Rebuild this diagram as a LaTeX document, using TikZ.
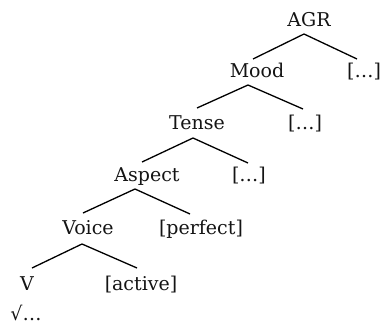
\documentclass[tikz,border=0pt]{standalone}
\usepackage{fontspec}
\setmainfont{DejaVu Serif}
\begin{document}
\begin{tikzpicture}[x=1pt,y=-1pt,
  lab/.style={anchor=base, inner sep=0pt, font=\fontsize{19}{22}\selectfont, text=black!92},
  branch/.style={line width=1.3pt, black}]
\useasboundingbox (0,0) rectangle (383,324);
% labels
\node[lab] (agr)    at (309,26)  {AGR};
\node[lab] (mood)   at (257,77)  {Mood};
\node[lab] (r1)     at (364,77)  {[…]};
\node[lab] (tense)  at (197,129) {Tense};
\node[lab] (r2)     at (305,129) {[…]};
\node[lab] (aspect) at (147,181) {Aspect};
\node[lab] (r3)     at (249,181) {[…]};
\node[lab] (voice)  at (88,234)  {Voice};
\node[lab] (perf)   at (201,234) {[perfect]};
\node[lab] (v)      at (27,290)  {V};
\node[lab] (act)    at (141,290) {[active]};
\node[lab] (root)   at (26,320)  {√…};
% branch points
\coordinate (agrA)  at (304,34);
\coordinate (agrL)  at (253,59);
\coordinate (agrR)  at (357,59);
\coordinate (moodA) at (248,85);
\coordinate (moodL) at (197,108);
\coordinate (moodR) at (303,109);
\coordinate (tenA)  at (193,138);
\coordinate (tenL)  at (142,162);
\coordinate (tenR)  at (248,163);
\coordinate (aspA)  at (135,189);
\coordinate (aspL)  at (83,213);
\coordinate (aspR)  at (190,214);
\coordinate (voiA)  at (82,244);
\coordinate (voiL)  at (32,268);
\coordinate (voiR)  at (137,268);
\draw[branch] (agrL) -- (agrA) -- (agrR);
\draw[branch] (moodL) -- (moodA) -- (moodR);
\draw[branch] (tenL) -- (tenA) -- (tenR);
\draw[branch] (aspL) -- (aspA) -- (aspR);
\draw[branch] (voiL) -- (voiA) -- (voiR);
\end{tikzpicture}
\end{document}
